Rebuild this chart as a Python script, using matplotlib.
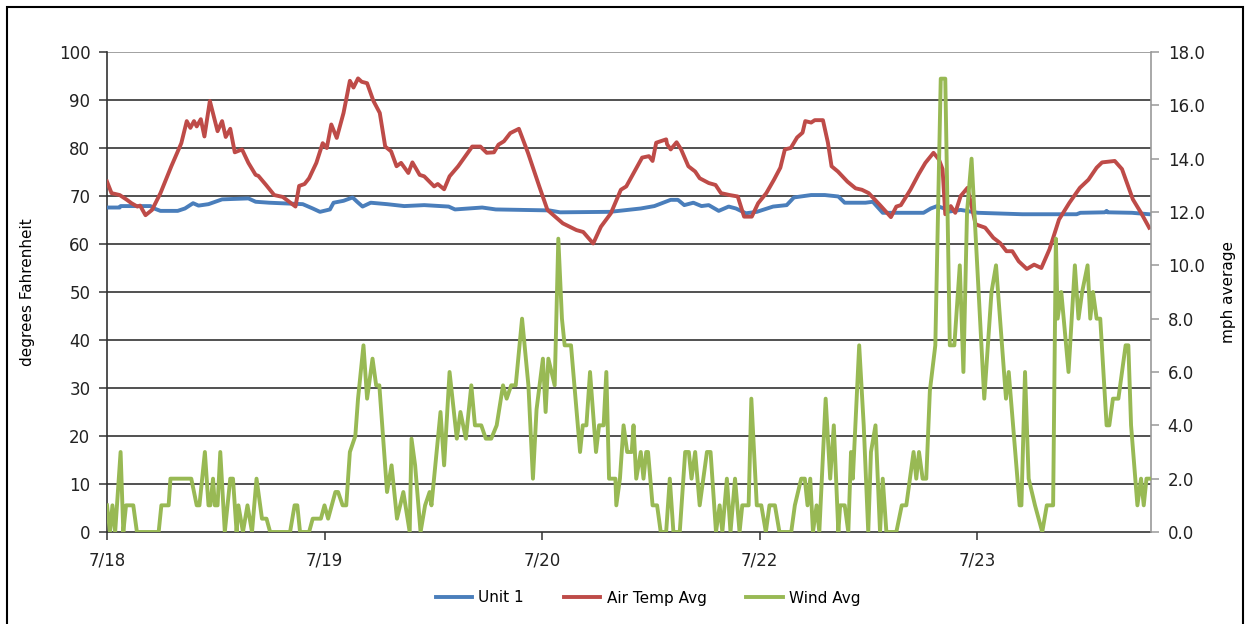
import matplotlib
matplotlib.use("Agg")
import matplotlib.pyplot as plt
from matplotlib.patches import Rectangle

# ---- data (hours since 7/18 00:00) ----
temp_hours = [0,0.5,1.4,2.2,2.7,3.35,3.65,4.25,4.97,5.9,7.1,8.2,8.8,9.2,9.6,9.9,10.35,10.75,11.35,12.2,12.7,13.1,13.6,14.1,14.9,15.6,16.4,16.7,17.55,18.45,19.4,20.8,21.2,21.8,22.3,23.1,23.8,24.25,24.75,25.35,26.1,26.8,27.2,27.7,28.1,28.7,29.4,30.1,30.7,31.35,31.95,32.45,33.25,33.7,34.5,35.0,36.1,36.5,37.2,37.8,38.75,40.3,41.2,41.9,42.7,43.2,43.8,44.5,45.45,46.45,47.7,48.6,50.3,51.8,52.55,53.65,54.5,55.6,56.7,57.3,58.35,59.05,59.8,60.2,60.6,61.7,61.8,62.2,62.85,63.35,64.15,64.9,65.4,66.4,67.15,67.75,68.7,69.6,70.3,71.15,71.85,72.75,73.6,74.3,74.8,75.45,76.15,76.75,77.05,77.7,78.1,79.0,79.55,79.95,80.65,81.7,82.6,83.3,84.05,85.3,86.5,87.1,87.6,88.65,89.55,90.3,91.2,91.8,92.2,92.5,93.1,93.6,94.2,94.95,95.85,96.9,97.8,98.55,99.25,99.9,100.6,101.5,102.3,103.1,104.0,105.05,106.2,107.35,108.3,109.2,109.8,110.3,111.2,112.0,113.2,114.1,115.0]
temp_vals = [73.0,70.6,70.2,69.2,68.5,67.8,68.0,66.0,67.1,70.6,76.2,81.0,85.6,84.2,85.6,84.5,86.0,82.4,89.8,83.5,85.6,82.3,84.0,79.1,79.7,76.9,74.4,74.2,72.3,70.2,69.8,67.8,72.1,72.5,73.7,76.9,81.0,80.0,84.9,82.1,87.3,94.0,92.6,94.5,93.8,93.5,89.8,87.3,80.3,79.3,76.2,76.9,74.8,77.0,74.4,74.1,72.0,72.5,71.4,74.1,76.2,80.3,80.3,79.0,79.1,80.7,81.4,83.1,84.0,79.0,72.0,67.1,64.3,62.9,62.5,60.1,63.6,66.4,71.3,72.0,75.6,78.0,78.3,77.3,81.1,81.8,80.8,79.7,81.2,79.7,76.2,75.1,73.7,72.7,72.3,70.6,70.2,69.9,65.7,65.7,68.5,70.6,73.4,75.9,79.7,80.0,82.2,83.2,85.6,85.3,85.8,85.8,81.1,76.2,75.1,73.0,71.6,71.3,70.6,68.1,65.6,67.8,68.1,71.3,74.5,76.9,79.0,77.6,75.6,66.2,67.9,66.5,70.0,71.7,64.1,63.4,61.3,60.2,58.5,58.5,56.4,54.8,55.7,55.0,58.9,65.1,68.6,71.7,73.4,75.9,77.0,77.1,77.3,75.6,69.3,66.5,63.4]

unit_hours = [0,1.4,1.5,4.8,5.2,5.9,7.8,8.6,9.5,10.1,11.2,12.7,15.6,16.4,17.9,21.6,22.7,23.5,24.6,25.0,26.1,27.1,27.6,28.2,29.1,30.9,32.8,35.0,37.7,38.4,41.4,42.9,48.8,50.0,55.5,58.9,60.4,62.2,63.0,63.7,64.7,65.6,66.4,67.5,68.6,69.4,70.5,71.7,73.5,75.0,75.8,77.7,79.2,80.7,81.4,83.7,84.5,85.6,90.1,90.9,91.6,92.4,92.7,94.2,96.1,101.0,107.0,107.4,110.1,110.3,110.4,113.1,115.0]
unit_vals = [67.6,67.6,67.9,67.9,67.4,66.9,66.9,67.4,68.5,68.0,68.3,69.3,69.5,68.8,68.6,68.3,67.4,66.7,67.2,68.6,69.0,69.7,68.8,67.8,68.6,68.3,67.9,68.1,67.8,67.2,67.6,67.2,67.0,66.6,66.7,67.4,67.9,69.2,69.2,68.1,68.6,67.9,68.1,66.9,67.8,67.4,66.4,66.7,67.8,68.1,69.7,70.2,70.2,69.9,68.6,68.6,68.8,66.5,66.5,67.4,67.9,67.4,66.7,67.1,66.5,66.2,66.2,66.5,66.6,66.9,66.6,66.5,66.2]

wind_hours = [0,0.33,0.6,0.9,1.1,1.5,1.8,2.1,2.9,3.3,5.7,6.0,6.8,7.0,9.3,9.9,10.2,10.8,11.2,11.4,11.7,11.9,12.2,12.5,13.0,13.6,13.9,14.3,14.5,15.0,15.5,16.0,16.5,17.1,17.6,18.0,20.2,20.7,21.0,21.3,22.3,22.7,23.6,24.0,24.4,25.2,25.5,26.0,26.4,26.8,27.4,27.7,28.3,28.7,29.3,29.7,30.05,30.9,31.4,32.0,32.7,33.4,33.6,34.0,34.6,35.1,35.6,35.8,36.8,37.2,37.8,38.6,39.0,39.6,40.2,40.6,41.3,41.8,42.4,43.0,43.7,44.1,44.6,45.1,45.8,46.5,47.0,47.4,48.1,48.4,48.7,49.4,49.8,50.2,50.5,51.2,52.2,52.5,52.9,53.3,53.96,54.3,54.8,55.1,55.4,56.1,56.2,56.6,57.0,57.4,57.9,58.1,58.4,58.9,59.2,59.5,59.7,60.2,60.7,61.1,61.7,62.1,62.5,63.2,63.8,64.2,64.5,64.9,65.4,65.8,66.2,66.6,67.2,67.6,67.9,68.4,68.8,69.3,69.8,70.1,70.8,71.1,71.7,72.2,72.7,73.1,73.7,74.2,75.5,75.9,76.6,77.0,77.3,77.6,77.9,78.3,78.6,79.3,79.8,80.2,80.7,80.9,81.4,81.8,82.1,82.3,83.0,83.5,84.0,84.3,84.8,85.3,85.6,86.0,87.1,87.7,88.2,89.0,89.3,89.6,90.0,90.4,90.8,91.4,92.0,92.5,93.0,93.5,94.1,94.5,94.9,95.4,96.8,97.6,98.1,99.2,99.5,100.7,100.9,101.3,101.7,102.4,103.2,103.7,104.4,104.7,104.9,105.3,106.1,106.8,107.2,107.6,108.2,108.5,108.8,109.2,109.6,110.3,110.6,111.0,111.6,112.4,112.7,113.0,113.7,114.1,114.4,114.7,115.0]
wind_vals = [1,0,1,0,1,3,0,1,1,0,0,1,1,2,2,1,1,3,1,1,2,1,1,3,0,2,2,0,1,0,1,0,2,0.5,0.5,0,0,1,1,0,0,0.5,0.5,1,0.5,1.5,1.5,1,1,3,3.6,5,7.0,5.0,6.5,5.5,5.5,1.5,2.5,0.5,1.5,0,3.5,2.5,0,1.0,1.5,1.0,4.5,2.5,6.0,3.5,4.5,3.5,5.5,4.0,4.0,3.5,3.5,4.0,5.5,5.0,5.5,5.5,8.0,5.5,2.0,4.6,6.5,4.5,6.5,5.5,11.0,8.0,7.0,7.0,3.0,4.0,4.0,6.0,3.0,4.0,4.0,6.0,2.0,2.0,1.0,2.0,4.0,3.0,3.0,4.0,2.0,3.0,2.0,3.0,3.0,1.0,1.0,0,0,2.0,0,0,3.0,3.0,2.0,3.0,1.0,2.0,3.0,3.0,0,1.0,0,2.0,0,2.0,0,1.0,1.0,5.0,1.0,1.0,0,1.0,1.0,0,0,1.0,2.0,2.0,1.0,2.0,0,1.0,0,5.0,2.0,4.0,0,1.0,1.0,0,3.0,2.0,7.0,4.0,0,3.0,4.0,0,2.0,0,0,1.0,1.0,3.0,2.0,3.0,2.0,2.0,5.3,7.0,17.0,17.0,7.0,7.0,10.0,6.0,12.0,14.0,5.0,9.0,10.0,5.0,6.0,1.0,1.0,6.0,2.0,1.0,0,1.0,1.0,11.0,8.0,9.0,6.0,10.0,8.0,9.0,10.0,8.0,9.0,8.0,8.0,4.0,4.0,5.0,5.0,7.0,7.0,4.0,1.0,2.0,1.0,2.0,2.0]

tick_hours = [0, 24, 48, 72, 96]
tick_labels = ["7/18", "7/19", "7/20", "7/22", "7/23"]
left_ticks = list(range(0, 101, 10))
right_ticks = [0, 2, 4, 6, 8, 10, 12, 14, 16, 18]

BLUE = "#4A7EBB"
RED = "#BE4B48"
GREEN = "#98B954"

plt.rcParams['font.family'] = ['DejaVu Sans']

fig = plt.figure(figsize=(12.5, 6.24), dpi=100)
ax = fig.add_axes([107/1250, 1 - 532/624, (1151 - 107)/1250, (532 - 52)/624])
ax2 = ax.twinx()

# gridlines
for v in left_ticks[1:]:
    ax.axhline(v, color="#888888" if v == 100 else "#222222", lw=1.1, zorder=0)

l1, = ax.plot(unit_hours, unit_vals, color=BLUE, lw=2.8, label="Unit 1", zorder=3)
l2, = ax.plot(temp_hours, temp_vals, color=RED, lw=2.8, label="Air Temp Avg", zorder=3)
l3, = ax2.plot(wind_hours, wind_vals, color=GREEN, lw=2.8, label="Wind Avg", zorder=3)

ax.set_xlim(0, 115.2)
ax.set_ylim(0, 100)
ax2.set_ylim(0, 18)

ax.set_xticks(tick_hours)
ax.set_xticklabels(tick_labels)
ax.set_yticks(left_ticks)
ax.set_yticklabels([str(v) for v in left_ticks])
ax2.set_yticks(right_ticks)
ax2.set_yticklabels([f"{v:.1f}" for v in right_ticks])

for a in (ax, ax2):
    a.spines['top'].set_visible(False)
ax.spines['right'].set_visible(False)
ax.spines['left'].set_color("#333333")
ax.spines['bottom'].set_color("#333333")
ax.spines['left'].set_linewidth(1.2)
ax.spines['bottom'].set_linewidth(1.2)
ax2.spines['left'].set_visible(False)
ax2.spines['bottom'].set_visible(False)
ax2.spines['right'].set_color("#999999")
ax2.spines['right'].set_linewidth(1.2)

ax.tick_params(axis='y', direction='out', length=6, width=1.1, color="#333333", labelsize=12, pad=6, labelcolor="#222222")
ax.tick_params(axis='x', direction='out', length=6, width=1.1, color="#333333", labelsize=12, pad=8, labelcolor="#222222")
ax2.tick_params(axis='y', direction='out', length=6, width=1.1, color="#999999", labelsize=12, pad=6, labelcolor="#222222")

ax.set_ylabel("degrees Fahrenheit", fontsize=11, labelpad=17)
ax2.set_ylabel("mph average", fontsize=11, labelpad=12)

fig.legend(handles=[l1, l2, l3], loc='center', bbox_to_anchor=(648/1250, 1 - 598/624),
           ncol=3, frameon=False, fontsize=11, handlelength=2.4, columnspacing=2.6, handletextpad=0.4)

fig.patches.append(Rectangle((7/1250, -0.02), (1243 - 7)/1250, 1.02 - 7/624,
                             transform=fig.transFigure, fill=False, edgecolor="black", lw=1.5))

fig.savefig("out.png", dpi=100)
